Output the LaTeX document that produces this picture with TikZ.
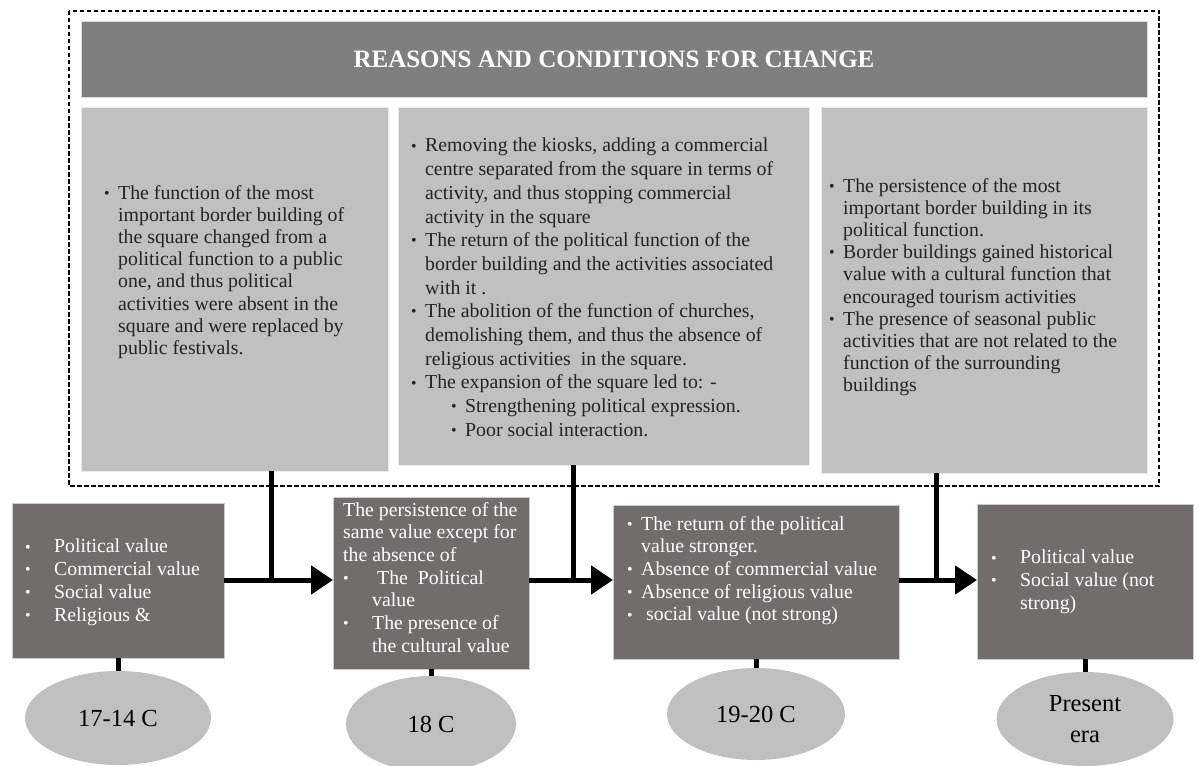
\documentclass[tikz,border=0pt]{standalone}
\usepackage{fontspec}
\setmainfont{Liberation Serif}
\usepackage{graphicx}
\usetikzlibrary{arrows.meta,shapes.geometric}

\definecolor{headgray}{RGB}{127,127,127}
\definecolor{panelgray}{RGB}{192,192,192}
\definecolor{valuegray}{RGB}{114,109,109}
\definecolor{inkgray}{RGB}{35,35,35}

% bullets and hanging indents
\newcommand{\pbul}{\makebox[14pt][l]{\raisebox{0.1ex}{\scalebox{0.8}{\textbullet}}}}
\newcommand{\pind}{\hspace*{14pt}}
\newcommand{\vbul}{\makebox[29pt][l]{\raisebox{0.1ex}{\scalebox{0.8}{\textbullet}}}}
\newcommand{\vind}{\hspace*{29pt}}

\tikzset{
  panel/.style={fill=panelgray, draw=white!92!black, line width=0.8pt, inner sep=0pt, outer sep=0pt},
  valuebox/.style={fill=valuegray, draw=white!80!black, line width=0.8pt, inner sep=0pt, outer sep=0pt},
  era/.style={ellipse, fill=panelgray, inner sep=0pt, outer sep=0pt, text=black,
    align=center, font=\fontsize{24.5}{31}\selectfont},
  paneltext/.style={align=left, inner sep=0pt, anchor=north west, text=inkgray,
    font=\fontsize{19.8}{22.2}\selectfont},
  valuetext/.style={align=left, inner sep=0pt, anchor=north west, text=white,
    font=\fontsize{19.8}{22.7}\selectfont},
  link/.style={line width=5pt, black},
  flow/.style={line width=5pt, black, -{Triangle[length=22pt,width=28pt]}}
}

\begin{document}
\begin{tikzpicture}[x=1pt,y=-1pt]
\useasboundingbox (0,0) rectangle (1198,765);

% Reasons and conditions for change
\draw[line width=1.1pt, dash pattern=on 4.5pt off 2.5pt] (69,11) rectangle (1159,486);
\node[fill=headgray, draw=white!85!black, line width=0.8pt, inner sep=0pt,
  minimum width=1066pt, minimum height=76pt, text=white,
  font=\fontsize{25}{28}\selectfont\bfseries] (head) at (614,59)
  {REASONS AND CONDITIONS FOR CHANGE};

\node[panel, minimum width=307pt, minimum height=364pt] (p1) at (234.5,289) {};
\node[panel, minimum width=411pt, minimum height=358pt] (p2) at (603.5,286) {};
\node[panel, minimum width=326pt, minimum height=366pt] (p3) at (984,290) {};

\node[paneltext] (p1txt) at (104,185) {%
\pbul The function of the most\\
\pind important border building of\\
\pind the square changed from a\\
\pind political function to a public\\
\pind one, and thus political\\
\pind activities were absent in the\\
\pind square and were replaced by\\
\pind public festivals.};

\node[paneltext, font=\fontsize{19.8}{23.7}\selectfont] (p2txt) at (411,138) {%
\pbul Removing the kiosks, adding a commercial\\
\pind centre separated from the square in terms of\\
\pind activity, and thus stopping commercial\\
\pind activity in the square\\
\pbul The return of the political function of the\\
\pind border building and the activities associated\\
\pind with it .\\
\pbul The abolition of the function of churches,\\
\pind demolishing them, and thus the absence of\\
\pind religious activities\ \ in the square.\\
\pbul The expansion of the square led to: -\\
\hspace*{40pt}\pbul Strengthening political expression.\\
\hspace*{40pt}\pbul Poor social interaction.};

\node[paneltext] (p3txt) at (829,178) {%
\pbul The persistence of the most\\
\pind important border building in its\\
\pind political function.\\
\pbul Border buildings gained historical\\
\pind value with a cultural function that\\
\pind encouraged tourism activities\\
\pbul The presence of seasonal public\\
\pind activities that are not related to the\\
\pind function of the surrounding\\
\pind buildings};

% Values of the square
\node[valuebox, minimum width=212pt, minimum height=155pt] (b1) at (118,580.5) {};
\node[valuebox, minimum width=196pt, minimum height=172pt] (b2) at (431,583) {};
\node[valuebox, minimum width=286pt, minimum height=154pt] (b3) at (756,582) {};
\node[valuebox, minimum width=216pt, minimum height=155pt] (b4) at (1085,581.5) {};

\node[valuetext] (b1txt) at (25,539) {%
\vbul Political value\\
\vbul Commercial value\\
\vbul Social value\\
\vbul Religious \&};

\node[valuetext] (b2txt) at (343,502) {%
The persistence of the\\
same value except for\\
the absence of\\
\vbul\ The\ \ Political\\
\vind value\\
\vbul The presence of\\
\vind the cultural value};

\node[valuetext] (b3txt) at (627,516) {%
\pbul The return of the political\\
\pind value stronger.\\
\pbul Absence of commercial value\\
\pbul Absence of religious value\\
\pbul\ social value (not strong)};

\node[valuetext] (b4txt) at (991,550) {%
\vbul Political value\\
\vbul Social value (not\\
\vind strong)};

% Periods
\node[era, minimum width=186pt, minimum height=94pt] (e1) at (118,718) {17-14 C};
\node[era, minimum width=170pt, minimum height=96pt] (e2) at (431,724) {18 C};
\node[era, minimum width=178pt, minimum height=92pt] (e3) at (756,714) {19-20 C};
\node[era, minimum width=177pt, minimum height=94pt] (e4) at (1085,719) {Present\\era};

\draw[link] (b1.south) -- (e1.north);
\draw[link] (b2.south) -- (e2.north);
\draw[link] (b3.south) -- (e3.north);
\draw[link] (b4.south) -- (e4.north);

% Change arrows
\coordinate (j1) at (271,580);
\coordinate (j2) at (573,580);
\coordinate (j3) at (936,580);
\draw[flow] (b1.east |- j1) -- (b2.west |- j1);
\draw[flow] (b2.east |- j2) -- (b3.west |- j2);
\draw[flow] (b3.east |- j3) -- (b4.west |- j3);
\draw[link] (p1.south -| j1) -- (j1);
\draw[link] (p2.south -| j2) -- (j2);
\draw[link] (p3.south -| j3) -- (j3);
\end{tikzpicture}
\end{document}
